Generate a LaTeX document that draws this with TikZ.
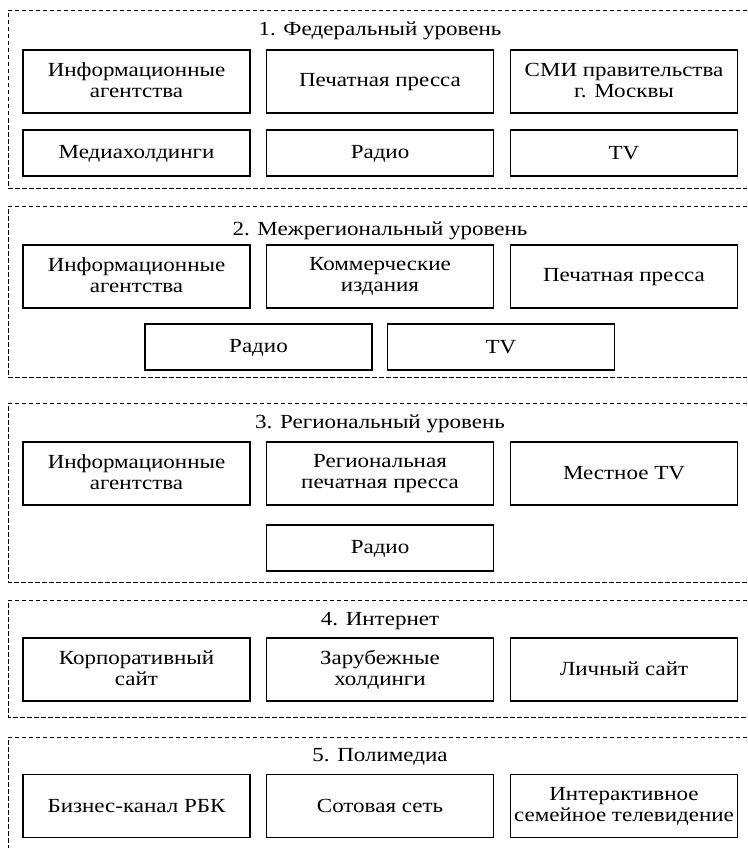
\documentclass[tikz,border=0pt]{standalone}
\usepackage{fontspec}
\setmainfont[FakeStretch=1.15]{Liberation Serif}

\begin{document}
\begin{tikzpicture}[x=1pt,y=-1pt,
    box/.style={draw, line width=1.1pt, inner sep=0pt, minimum width=227pt,
      align=center, font=\fontsize{20}{21}\selectfont,
      execute at begin node={\rule{0pt}{14pt}},
      execute at end node={\rule[-2pt]{0pt}{2pt}}},
    tall/.style={minimum height=63pt},
    low/.style={minimum height=46pt},
    level/.style={dash pattern=on 4.5pt off 2.5pt, line width=0.8pt},
    caption/.style={anchor=base, inner sep=0pt, font=\fontsize{20}{21}\selectfont}]
  \useasboundingbox (0,0) rectangle (747,848);

  % 1. federal level
  \draw[level] (747,10) -- (8,10) -- (8,188) -- (747,188);
  \node[caption] (t1) at (380,36) {1. Федеральный уровень};
  \node[box,tall] (f1) at (136.5,81.5) {Информационные\\агентства};
  \node[box,tall] (f2) at (380,81.5) {Печатная пресса};
  \node[box,tall] (f3) at (624,81.5) {СМИ правительства\\г. Москвы};
  \node[box,low] (f4) at (136.5,153) {Медиахолдинги};
  \node[box,low] (f5) at (380,153) {Радио};
  \node[box,low] (f6) at (624,153) {TV};

  % 2. interregional level
  \draw[level] (747,206) -- (8,206) -- (8,377) -- (747,377);
  \node[caption] (t2) at (380,235) {2. Межрегиональный уровень};
  \node[box,tall] (m1) at (136.5,276.5) {Информационные\\агентства};
  \node[box,tall] (m2) at (380,276.5) {Коммерческие\\издания};
  \node[box,tall] (m3) at (624,276.5) {Печатная пресса};
  \node[box,low] (m4) at (258.5,347) {Радио};
  \node[box,low] (m5) at (501,347) {TV};

  % 3. regional level
  \draw[level] (747,403) -- (8,403) -- (8,582) -- (747,582);
  \node[caption] (t3) at (380,428) {3. Региональный уровень};
  \node[box,tall] (r1) at (136.5,473.5) {Информационные\\агентства};
  \node[box,tall] (r2) at (380,473.5) {Региональная\\печатная пресса};
  \node[box,tall] (r3) at (624,473.5) {Местное TV};
  \node[box,low] (r4) at (380,548) {Радио};

  % 4. internet
  \draw[level] (747,600) -- (8,600) -- (8,717) -- (747,717);
  \node[caption] (t4) at (380,625) {4. Интернет};
  \node[box,tall] (i1) at (136.5,669.5) {Корпоративный\\сайт};
  \node[box,tall] (i2) at (380,669.5) {Зарубежные\\холдинги};
  \node[box,tall] (i3) at (624,669.5) {Личный сайт};

  % 5. polymedia
  \draw[level] (747,737) -- (8,737) -- (8,848);
  \node[caption] (t5) at (380,761) {5. Полимедиа};
  \node[box,tall] (p1) at (136.5,806) {Бизнес-канал РБК};
  \node[box,tall] (p2) at (380,806) {Сотовая сеть};
  \node[box,tall] (p3) at (624,806) {Интерактивное\\семейное телевидение};
\end{tikzpicture}
\end{document}
